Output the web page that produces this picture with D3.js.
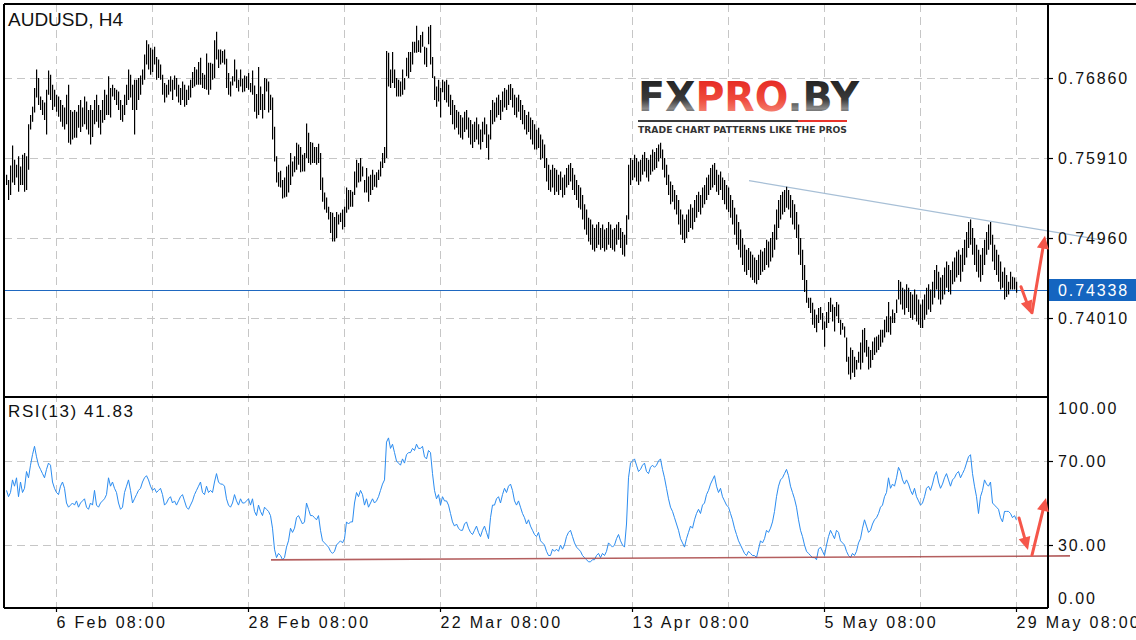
<!DOCTYPE html>
<html><head><meta charset="utf-8">
<script src="https://cdn.jsdelivr.net/npm/d3@7"></script>
<style>html,body{margin:0;padding:0;background:#fff;overflow:hidden}</style>
</head><body><svg id="c" width="1136" height="640"></svg>
<script>
// ---------------- DATA ----------------
const symbolTitle = "AUDUSD, H4";
const rsiTitle = "RSI(13) 41.83";
const lastPrice = 0.74338;
// bar highs / lows in pips (price = value / 10000)
const highs = [
7571,7565,7582,7606,7589,7583,7593,7581,7595,7597,
7593,7631,7642,7652,7674,7696,7686,7664,7660,7657,
7672,7695,7690,7678,7672,7666,7664,7660,7654,7651,
7666,7678,7648,7646,7648,7646,7654,7660,7651,7664,
7658,7648,7654,7648,7660,7666,7654,7648,7660,7672,
7666,7688,7674,7678,7674,7672,7670,7660,7654,7666,
7678,7696,7690,7678,7684,7684,7686,7689,7696,7714,
7731,7726,7722,7720,7723,7711,7708,7702,7690,7680,
7678,7684,7688,7684,7689,7686,7678,7674,7682,7678,
7672,7677,7684,7693,7699,7696,7705,7710,7692,7690,
7715,7704,7704,7703,7731,7741,7720,7720,7718,7720,
7709,7692,7682,7688,7708,7696,7684,7696,7685,7689,
7688,7692,7680,7695,7677,7667,7699,7676,7667,7686,
7685,7682,7666,7663,7628,7593,7574,7576,7565,7568,
7581,7583,7597,7587,7593,7609,7607,7604,7595,7597,
7632,7621,7610,7609,7604,7604,7608,7597,7568,7550,
7544,7533,7527,7526,7521,7527,7524,7526,7530,7533,
7556,7553,7553,7551,7575,7589,7585,7591,7581,7565,
7579,7569,7571,7577,7571,7574,7577,7587,7597,7604,
7718,7716,7696,7717,7696,7686,7684,7682,7696,7686,
7710,7717,7717,7729,7729,7748,7731,7737,7741,7723,
7722,7747,7749,7711,7688,7676,7684,7674,7684,7682,
7684,7678,7666,7660,7654,7648,7646,7642,7639,7646,
7648,7639,7636,7631,7634,7639,7631,7625,7634,7639,
7631,7619,7648,7660,7657,7663,7666,7660,7670,7674,
7672,7678,7679,7674,7666,7663,7666,7660,7654,7648,
7642,7646,7639,7636,7631,7625,7627,7619,7613,7607,
7591,7583,7577,7583,7579,7577,7571,7575,7568,7571,
7579,7583,7585,7579,7571,7565,7559,7556,7547,7536,
7530,7520,7518,7512,7508,7512,7515,7508,7512,7506,
7508,7515,7512,7506,7508,7512,7515,7508,7503,7500,
7523,7583,7591,7589,7595,7591,7587,7589,7595,7598,
7591,7589,7595,7601,7598,7603,7607,7609,7601,7591,
7583,7571,7563,7559,7553,7547,7541,7530,7524,7518,
7524,7530,7536,7532,7541,7547,7551,7547,7556,7559,
7568,7571,7579,7583,7585,7577,7571,7575,7568,7565,
7559,7556,7547,7541,7532,7524,7515,7506,7496,7488,
7482,7484,7480,7476,7473,7470,7476,7482,7480,7484,
7494,7492,7496,7503,7512,7530,7541,7547,7551,7553,
7557,7553,7547,7541,7536,7527,7512,7496,7482,7464,
7446,7425,7425,7419,7411,7405,7413,7414,7407,7397,
7408,7420,7425,7417,7414,7420,7417,7399,7395,7391,
7378,7355,7366,7363,7355,7351,7361,7372,7387,7389,
7375,7367,7363,7373,7378,7379,7381,7387,7387,7399,
7403,7420,7403,7411,7407,7423,7446,7444,7437,7435,
7441,7437,7432,7429,7435,7429,7423,7417,7423,7429,
7437,7441,7435,7444,7458,7464,7456,7449,7452,7461,
7468,7464,7458,7468,7473,7480,7482,7476,7484,7494,
7503,7515,7518,7508,7496,7488,7482,7476,7484,7494,
7503,7512,7515,7500,7488,7482,7476,7468,7456,7461,
7452,7444,7456,7450,7449,7444];
const lows = [
7559,7541,7547,7562,7559,7568,7551,7559,7559,7551,
7553,7577,7625,7634,7645,7663,7654,7648,7642,7636,
7619,7666,7660,7648,7652,7646,7640,7634,7628,7625,
7631,7609,7607,7613,7615,7615,7627,7622,7628,7631,
7625,7619,7607,7616,7631,7634,7627,7619,7633,7636,
7642,7642,7639,7664,7660,7654,7648,7636,7634,7642,
7654,7660,7663,7648,7619,7648,7660,7666,7678,7684,
7702,7696,7690,7693,7702,7684,7686,7684,7666,7657,
7663,7666,7670,7660,7672,7664,7657,7654,7660,7652,
7654,7660,7663,7674,7676,7678,7678,7678,7674,7673,
7672,7666,7672,7684,7686,7708,7698,7702,7704,7702,
7674,7666,7664,7677,7682,7674,7670,7676,7669,7670,
7674,7672,7669,7666,7646,7638,7642,7648,7638,7648,
7670,7645,7648,7613,7587,7562,7557,7556,7543,7544,
7545,7550,7559,7569,7574,7577,7583,7574,7575,7575,
7591,7585,7583,7585,7585,7583,7585,7553,7539,7530,
7526,7518,7502,7492,7492,7496,7512,7515,7506,7509,
7526,7530,7533,7533,7547,7556,7562,7563,7569,7550,
7550,7539,7547,7553,7557,7556,7565,7569,7579,7585,
7591,7676,7674,7680,7674,7664,7664,7664,7666,7672,
7688,7686,7693,7702,7716,7716,7717,7716,7723,7702,
7699,7726,7702,7686,7660,7652,7658,7639,7669,7660,
7657,7652,7642,7631,7625,7627,7619,7615,7613,7622,
7625,7615,7607,7603,7610,7613,7607,7601,7610,7619,
7603,7589,7613,7631,7634,7639,7642,7636,7646,7651,
7648,7654,7660,7651,7642,7639,7646,7636,7631,7625,
7619,7622,7613,7607,7601,7601,7603,7589,7591,7579,
7563,7553,7551,7556,7547,7551,7547,7553,7544,7547,
7556,7559,7563,7553,7547,7541,7532,7530,7518,7506,
7500,7492,7488,7482,7480,7484,7488,7482,7484,7480,
7482,7488,7484,7482,7480,7488,7494,7484,7476,7474,
7488,7518,7559,7565,7568,7563,7559,7563,7571,7575,
7568,7563,7571,7575,7577,7579,7587,7591,7577,7568,
7559,7547,7536,7539,7530,7524,7512,7500,7494,7490,
7496,7503,7508,7506,7515,7520,7527,7524,7532,7536,
7541,7547,7553,7556,7559,7551,7547,7553,7541,7536,
7530,7527,7520,7512,7500,7488,7482,7473,7464,7456,
7452,7458,7449,7446,7443,7441,7446,7452,7456,7458,
7464,7461,7468,7473,7482,7494,7508,7518,7524,7527,
7532,7530,7520,7512,7506,7496,7476,7464,7446,7432,
7419,7413,7407,7393,7389,7384,7395,7399,7387,7367,
7389,7395,7408,7397,7385,7403,7395,7381,7387,7378,
7349,7334,7328,7336,7331,7340,7348,7340,7348,7360,
7355,7340,7342,7351,7357,7360,7363,7367,7372,7378,
7384,7384,7381,7395,7395,7407,7423,7417,7411,7405,
7413,7408,7401,7399,7405,7397,7393,7389,7389,7399,
7405,7411,7408,7417,7425,7435,7423,7417,7423,7429,
7437,7432,7429,7441,7444,7449,7452,7444,7456,7464,
7473,7484,7488,7476,7464,7456,7449,7444,7452,7464,
7476,7482,7488,7468,7458,7452,7444,7435,7437,7423,
7426,7429,7435,7435,7435,7431];
const rsi = [
56,53,55,61,58,62,53,60,55,57,
65,62,68,73,77,72,68,66,64,62,
66,69,68,60,57,55,54,58,60,57,
50,48,49,50,49,51,48,50,51,52,
48,47,50,49,56,49,48,50,51,52,
54,62,58,60,57,55,50,47,48,55,
58,61,56,50,52,54,56,57,60,62,
63,61,58,56,57,55,56,57,54,49,
50,52,53,50,51,49,51,53,54,51,
48,47,49,51,54,56,58,60,55,54,
58,55,56,55,60,64,60,59,59,58,
52,49,48,50,54,51,49,52,50,50,
51,52,49,52,46,44,49,46,44,48,
47,46,44,38,28,24,26,25,23,24,
29,32,38,36,38,43,44,42,40,41,
50,47,44,44,43,42,44,37,32,31,
30,29,27,26,27,30,31,32,31,33,
41,40,41,41,50,55,53,56,54,49,
52,48,50,52,50,51,53,56,59,61,
79,81,76,78,74,70,69,68,71,69,
73,74,74,76,75,78,76,76,77,72,
71,75,74,64,56,52,54,49,53,51,
51,49,45,41,39,40,38,37,37,40,
41,38,36,35,37,39,36,34,37,39,
36,33,43,49,49,52,53,50,54,57,
55,58,59,56,51,49,51,48,45,43,
40,42,39,37,35,34,36,32,31,30,
27,25,25,28,27,28,27,30,28,30,
34,36,37,34,31,29,28,27,25,24,
23,22,22,23,23,25,26,24,26,25,
27,31,30,29,30,33,35,32,30,29,
40,62,69,70,71,68,65,66,68,69,
65,64,67,68,67,68,70,71,66,62,
57,52,48,46,43,40,37,33,31,29,
33,36,39,38,42,45,47,45,49,50,
54,56,59,61,63,58,55,57,53,51,
49,48,45,42,38,35,32,30,28,26,
25,27,26,25,25,24,28,32,31,33,
37,36,38,41,46,53,58,61,62,64,
66,63,58,55,52,48,42,37,34,30,
27,26,25,24,24,23,28,29,27,25,
30,34,37,35,33,37,36,32,31,30,
27,25,24,26,25,27,31,33,38,42,
39,36,37,40,42,43,45,48,49,53,
55,62,57,59,58,62,67,65,61,59,
61,59,56,54,57,53,51,49,50,53,
57,58,56,59,63,65,60,57,59,62,
64,61,58,61,62,64,65,62,64,66,
69,72,73,64,58,53,45,53,56,61,
59,58,60,50,49,48,47,43,41,46,
46,46,45,43,44,41.83];
const priceTicks = [0.76860, 0.75910, 0.74960, 0.74010];
const rsiTicks = [100, 70, 30, 0];
const rsiLevels = [70, 30];
const timeTickIndex = [25, 121, 217, 313, 409, 505];
const timeTickText = ["6 Feb 08:00", "28 Feb 08:00", "22 Mar 08:00", "13 Apr 08:00", "5 May 08:00", "29 May 08:00"];
const gridIndex = [25, 73, 121, 169, 217, 265, 313, 361, 409, 457, 505];
// drawn annotations (bar index, value)
const priceTrend = [[371.5, 0.75641], [547, 0.74940]];
const rsiTrend = [[132.5, 22.9], [532, 24.8]];
const priceArrows = [[[507.5, 0.74382], [512.5, 0.74061]], [[513, 0.74073], [519.5, 0.74988]]];
const rsiArrows = [[[506.5, 42.9], [511, 27.6]], [[513, 25.2], [520, 52.4]]];

// ---------------- LAYOUT ----------------
const L = 4, R = 1048, T = 4, MID = 397, B = 608;
const FONT = "'Liberation Sans', Arial, sans-serif";
const svg = d3.select("#c");
const n = Math.min(highs.length, lows.length);
const x = d3.scaleLinear().domain([0, 505]).range([6, 1016]);
const yP = d3.scaleLinear().domain([0.73072, 0.77739]).range([MID, T]);
const yR = d3.scaleLinear().domain([0, 100]).range([B, 398]);
const px = v => v / 10000;

const defs = svg.append("defs");
defs.append("clipPath").attr("id", "pclip").append("rect").attr("x", L).attr("y", T).attr("width", R - L).attr("height", MID - T);
defs.append("clipPath").attr("id", "rclip").append("rect").attr("x", L).attr("y", MID).attr("width", R - L).attr("height", B - MID);

// grid
const grid = svg.append("g").attr("stroke", "#c6c6c6").attr("stroke-width", 1).attr("stroke-dasharray", "8,5").attr("fill", "none");
gridIndex.forEach(i => {
  const gx = Math.round(x(i)) + 0.5;
  grid.append("line").attr("x1", gx).attr("x2", gx).attr("y1", T).attr("y2", B);
});
priceTicks.forEach(v => {
  const gy = Math.round(yP(v)) + 0.5;
  grid.append("line").attr("x1", L).attr("x2", R).attr("y1", gy).attr("y2", gy);
});
rsiLevels.forEach(v => {
  const gy = Math.round(yR(v)) + 0.5;
  grid.append("line").attr("x1", L).attr("x2", R).attr("y1", gy).attr("y2", gy);
});

// logo
const gradDark = defs.append("linearGradient").attr("id", "gDark").attr("x1", 0).attr("y1", 0).attr("x2", 0).attr("y2", 1);
gradDark.append("stop").attr("offset", "0%").attr("stop-color", "#1c1c1c");
gradDark.append("stop").attr("offset", "55%").attr("stop-color", "#3a3a3a");
gradDark.append("stop").attr("offset", "75%").attr("stop-color", "#8a8a8a");
gradDark.append("stop").attr("offset", "100%").attr("stop-color", "#2a2a2a");
const gradRed = defs.append("linearGradient").attr("id", "gRed").attr("x1", 0).attr("y1", 0).attr("x2", 0).attr("y2", 1);
gradRed.append("stop").attr("offset", "0%").attr("stop-color", "#e3201c");
gradRed.append("stop").attr("offset", "55%").attr("stop-color", "#ef4a3c");
gradRed.append("stop").attr("offset", "100%").attr("stop-color", "#f7a090");
const logo = svg.append("g");
logo.append("rect").attr("x", 634).attr("y", 80).attr("width", 228).attr("height", 57).attr("fill", "#fff");
const lt = logo.append("text").attr("x", 638).attr("y", 111).attr("font-family", "'DejaVu Sans', sans-serif")
  .attr("font-weight", "bold").attr("font-size", 40).attr("textLength", 221).attr("lengthAdjust", "spacingAndGlyphs");
lt.append("tspan").attr("fill", "url(#gDark)").text("FX");
lt.append("tspan").attr("fill", "url(#gRed)").text("PRO");
lt.append("tspan").attr("fill", "url(#gDark)").text(".BY");
logo.append("rect").attr("x", 638).attr("y", 120).attr("width", 160).attr("height", 2).attr("fill", "#3c3c3c");
logo.append("rect").attr("x", 798).attr("y", 120).attr("width", 49).attr("height", 2).attr("fill", "#e8342c");
logo.append("text").attr("x", 638).attr("y", 133).attr("font-family", "'DejaVu Sans', sans-serif").attr("font-weight", "bold")
  .attr("font-size", 9.5).attr("fill", "#333").attr("textLength", 209).attr("lengthAdjust", "spacingAndGlyphs")
  .text("TRADE CHART PATTERNS LIKE THE PROS");

// current price line
const cy = Math.round(yP(lastPrice)) + 0.5;
svg.append("line").attr("x1", L).attr("x2", R).attr("y1", cy).attr("y2", cy).attr("stroke", "#1f68c0").attr("stroke-width", 1);

// price trendline
svg.append("line")
  .attr("x1", x(priceTrend[0][0])).attr("y1", yP(priceTrend[0][1]))
  .attr("x2", x(priceTrend[1][0])).attr("y2", yP(priceTrend[1][1]))
  .attr("stroke", "#a7bfd6").attr("stroke-width", 1.3);

// bars
const bars = svg.append("g").attr("clip-path", "url(#pclip)");
bars.selectAll("line").data(d3.range(n)).join("line")
  .attr("x1", i => Math.round(x(i)) + 0.6).attr("x2", i => Math.round(x(i)) + 0.6)
  .attr("y1", i => yP(px(highs[i]))).attr("y2", i => Math.max(yP(px(lows[i])), yP(px(highs[i])) + 1))
  .attr("stroke", "#000").attr("stroke-width", 1.2);

// RSI line
const rsiLine = d3.line().x((d, i) => x(i) + 0.5).y(d => yR(d));
svg.append("path").attr("clip-path", "url(#rclip)").attr("d", rsiLine(rsi)).attr("fill", "none")
  .attr("stroke", "#2b8cf0").attr("stroke-width", 1);

// RSI trendline
svg.append("line")
  .attr("x1", x(rsiTrend[0][0])).attr("y1", yR(rsiTrend[0][1]))
  .attr("x2", x(rsiTrend[1][0])).attr("y2", yR(rsiTrend[1][1]))
  .attr("stroke", "#a84444").attr("stroke-width", 1.6).attr("opacity", 0.85);

// frame
const frame = svg.append("g").attr("stroke", "#000").attr("stroke-width", 1.5).attr("shape-rendering", "crispEdges");
frame.append("line").attr("x1", L).attr("x2", 1136).attr("y1", T).attr("y2", T);
frame.append("line").attr("x1", L).attr("x2", L).attr("y1", T).attr("y2", B);
frame.append("line").attr("x1", R).attr("x2", R).attr("y1", T).attr("y2", B);
frame.append("line").attr("x1", L).attr("x2", R).attr("y1", MID).attr("y2", MID);
frame.append("line").attr("x1", L).attr("x2", R).attr("y1", B).attr("y2", B);

// axes
function styleAxis(g) {
  g.select(".domain").remove();
  g.selectAll("line").attr("stroke", "#000").attr("stroke-width", 1.2);
  g.selectAll("text").attr("font-family", FONT).attr("font-size", 16).attr("fill", "#111").attr("letter-spacing", "1.9px");
}
svg.append("g").attr("transform", `translate(${R},0)`)
  .call(d3.axisRight(yP).tickValues(priceTicks).tickSize(5).tickPadding(5).tickFormat(d3.format(".5f")))
  .call(styleAxis);
svg.append("g").attr("transform", `translate(${R},0)`)
  .call(d3.axisRight(yR).tickValues(rsiTicks).tickSize(5).tickPadding(5).tickFormat(d3.format(".2f")))
  .call(styleAxis)
  .call(g => g.selectAll("text").attr("dy", d => d === 100 ? "0.95em" : d === 0 ? "-0.3em" : "0.32em"))
  .call(g => g.selectAll("line").attr("opacity", d => (d === 100 || d === 0) ? 0 : 1));
svg.append("g").attr("transform", `translate(0,${B})`)
  .call(d3.axisBottom(x).tickValues(timeTickIndex).tickSize(4).tickPadding(5)
    .tickFormat((d, k) => timeTickText[k]))
  .call(styleAxis)
  .call(g => g.selectAll("text").attr("text-anchor", "start").attr("letter-spacing", "2.3px"))
  .call(g => g.selectAll(".tick").attr("transform", d => `translate(${Math.round(x(d)) + 0.5},0)`));

// current price label
svg.append("rect").attr("x", R + 1).attr("y", cy - 11.5).attr("width", 1136 - R - 1).attr("height", 22).attr("fill", "#1565c0");
svg.append("text").attr("x", R + 10).attr("y", cy).attr("dy", "0.35em").attr("font-family", FONT).attr("font-size", 16)
  .attr("letter-spacing", "1.9px").attr("fill", "#fff").text(d3.format(".5f")(lastPrice));

// titles
svg.append("text").attr("x", 8).attr("y", 26).attr("font-family", FONT).attr("font-size", 19).attr("fill", "#111").text(symbolTitle);
svg.append("text").attr("x", 8).attr("y", 417).attr("font-family", FONT).attr("font-size", 17).attr("letter-spacing", "1.6px").attr("fill", "#111").text(rsiTitle);

// arrows
function arrow(p1, p2) {
  const [x1, y1] = p1, [x2, y2] = p2;
  const dx = x2 - x1, dy = y2 - y1, len = Math.hypot(dx, dy);
  const ux = dx / len, uy = dy / len, hl = 13, hw = 6;
  const bx = x2 - ux * hl, by = y2 - uy * hl;
  const g = svg.append("g");
  g.append("line").attr("x1", x1).attr("y1", y1).attr("x2", bx + ux * 2).attr("y2", by + uy * 2)
    .attr("stroke", "#f5564a").attr("stroke-width", 3).attr("stroke-linecap", "round");
  g.append("polygon").attr("points", [[x2, y2], [bx - uy * hw, by + ux * hw], [bx + uy * hw, by - ux * hw]].map(p => p.join(",")).join(" "))
    .attr("fill", "#f5564a");
}
priceArrows.forEach(a => arrow([x(a[0][0]), yP(a[0][1])], [x(a[1][0]), yP(a[1][1])]));
rsiArrows.forEach(a => arrow([x(a[0][0]), yR(a[0][1])], [x(a[1][0]), yR(a[1][1])]));
</script></body></html>
